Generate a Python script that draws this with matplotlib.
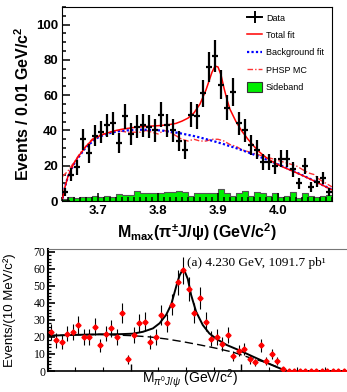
import numpy as np
import matplotlib.pyplot as plt
from matplotlib.patches import Patch
from matplotlib.lines import Line2D
from matplotlib.ticker import MultipleLocator

plt.rcParams['mathtext.fontset'] = 'custom'
plt.rcParams['mathtext.rm'] = 'Liberation Sans'
plt.rcParams['mathtext.bf'] = 'Liberation Sans:bold'
plt.rcParams['mathtext.it'] = 'Liberation Sans:italic'

# ---- panel superior: M_max(pi+- J/psi) ----
bin_lo = 3.64
bin_w = 0.01
datos = [5, 15, 19, 35, 27, 37, 39, 43, 44, 33, 48, 38, 42, 43, 42, 40, 49, 43, 40, 34,
         29, 49, 48, 61, 76, 82, 66, 53, 62, 44, 40, 32, 29, 22, 22, 20, 24, 24, 18, 10,
         20, 8, 11, 13, 5]
sideband = [1.3, 2.1, 1.5, 2.1, 2.5, 2.8, 2.1, 3.0, 2.5, 3.8, 3.2, 3.4, 5.8, 4.3, 4.3,
            4.7, 4.7, 5.1, 5.1, 5.7, 5.3, 2.8, 4.3, 4.3, 4.3, 4.7, 6.6, 4.3, 2.8, 4.3,
            5.7, 2.8, 5.1, 4.3, 2.8, 4.3, 2.1, 2.8, 5.1, 1.5, 4.3, 2.8, 2.5, 2.8, 3.2]

x_fit = [3.641, 3.645, 3.65, 3.66, 3.67, 3.68, 3.69, 3.70, 3.71, 3.72, 3.73, 3.74, 3.75,
         3.76, 3.77, 3.78, 3.79, 3.80, 3.81, 3.82, 3.83, 3.84, 3.85, 3.86, 3.87, 3.88,
         3.885, 3.89, 3.895, 3.90, 3.905, 3.91, 3.915, 3.92, 3.93, 3.94, 3.95, 3.96, 3.97,
         3.98, 3.99, 4.00, 4.01, 4.02, 4.03, 4.04, 4.05, 4.06, 4.07, 4.08, 4.09]
total_fit = [1.5, 8, 14, 21.5, 26.5, 31, 34.5, 36.5, 38, 39, 40, 40.7, 41.2,
             41.7, 42, 42.3, 42.5, 42.7, 43, 43.4, 44, 45.3, 47, 50, 55, 63,
             68, 73, 76.5, 76, 71.5, 64, 57.5, 52, 45, 39.5, 35, 31, 27.5,
             24.7, 22.5, 20.6, 19, 17.6, 16.1, 14.6, 13, 11.4, 9.7, 8, 6.3]
bkg_fit = [1.5, 8, 14, 21, 26, 30.5, 33.5, 36, 37.5, 38.5, 39.3, 39.8, 40.1,
           40.3, 40.4, 40.4, 40.3, 40.1, 39.8, 39.3, 38.8, 38.2, 37.5, 36.8, 36, 35.1,
           34.6, 34.2, 33.7, 33.2, 32.7, 32.2, 31.6, 31.1, 30, 28.8, 27.6, 26.3, 25,
           23.6, 22.2, 20.8, 19.3, 17.8, 16.3, 14.7, 13.1, 11.5, 9.8, 8.1, 6.4]
x_phsp = [3.641, 3.65, 3.66, 3.67, 3.68, 3.69, 3.70, 3.71, 3.72, 3.73, 3.74, 3.75, 3.76,
          3.77, 3.78, 3.79, 3.80, 3.81, 3.82, 3.83, 3.84, 3.85, 3.86, 3.87, 3.88, 3.89,
          3.90, 3.91, 3.92, 3.93, 3.94, 3.95, 3.96, 3.97, 3.98, 3.99, 4.00, 4.01, 4.02,
          4.03, 4.04, 4.05, 4.06, 4.07, 4.08, 4.09]
phsp = [14, 17, 22, 27, 31, 35, 37, 38, 39, 40, 39.5, 39, 39, 39, 40, 39, 38, 40, 39,
        37, 35, 34, 35, 34, 34, 35, 35, 34, 32, 31, 29, 28, 27, 26, 25, 24, 23, 22, 21,
        20, 18, 16, 15, 12, 10, 8]

# ---- panel inferior: M_{pi0 J/psi} ----
b_lo = 3.65
puntos = [23, 18, 17, 22, 23, 27, 20, 20, 26, 15, 22, 25, 20, 34, 7, 21, 28, 29, 17, 20,
          33, 28, 39, 52, 59, 48, 34, 43, 29, 19, 20, 16, 21, 9, 12, 13, 7, 5, 15, 6,
          10, 6, 1, 0, 0, 0, 0, 0, 0, 0, 0, 0, 0, 0]
x_b = [3.650, 3.700, 3.744, 3.780, 3.804, 3.822, 3.840, 3.852, 3.864, 3.873, 3.882,
       3.888, 3.893, 3.898, 3.903, 3.909, 3.918, 3.930, 3.942, 3.955, 3.973, 3.997,
       4.021, 4.045, 4.069, 4.082, 4.20]
total_b = [20.7, 21.2, 21.5, 21.6, 21.9, 23, 25, 28, 33, 39, 49.5,
           56, 59, 58, 54, 44.6, 34.8, 27, 22, 18.8, 15.3, 12,
           8.4, 4.9, 1.6, 0, 0]
x_bg = [3.650, 3.700, 3.744, 3.804, 3.834, 3.864, 3.894, 3.925, 3.955, 3.985, 4.015,
        4.045, 4.082, 4.20]
bg_b = [20.7, 21.2, 21.5, 20.7, 20, 18.8, 17.2, 15.3, 13.3, 11, 7.8, 4.9, 0, 0]

fig = plt.figure(figsize=(3.47, 3.92), dpi=100)

# ===== arriba =====
ax = fig.add_axes([62/347, 1-201/392, 270/347, 194/392])
n = len(datos)
edges = bin_lo + bin_w*np.arange(n+1)
centros = bin_lo + bin_w*(np.arange(n) + 0.5)
d = np.array(datos, float)

ax.stairs(sideband, edges, fill=True, facecolor='#00ee00', edgecolor='none', zorder=1)
ax.stairs(sideband, edges, color='#555555', lw=0.8, zorder=1.5)
ax.plot(x_phsp, phsp, color='#ff3333', lw=1.0, ls=(0, (4, 1.5, 1, 1.5)), zorder=2)
ax.plot(x_fit, bkg_fit, color='#0000ff', lw=1.6, ls=(0, (1, 1)), zorder=3)
ax.plot(x_fit, total_fit, color='#ff0000', lw=1.1, zorder=4)
ax.errorbar(centros, d, yerr=np.sqrt(d), xerr=bin_w/2, fmt='none', ecolor='black',
            elinewidth=1.6, capsize=0, zorder=5)

ax.set_xlim(3.64, 4.09)
ax.set_ylim(0, 110)
ax.xaxis.set_minor_locator(MultipleLocator(0.01))
ax.yaxis.set_minor_locator(MultipleLocator(5))
ax.tick_params(which='both', direction='in', top=False, right=False, width=1.1)
ax.tick_params(which='major', length=5.5, pad=3)
ax.tick_params(which='minor', length=3)
ax.set_xticks([3.7, 3.8, 3.9, 4.0])
ax.set_xticklabels(['3.7', '3.8', '3.9', '4.0'], fontfamily='Liberation Sans',
                   fontweight='bold', fontsize=9.5)
ax.set_yticks([0, 20, 40, 60, 80, 100])
ax.set_yticklabels(['0', '20', '40', '60', '80', '100'], fontfamily='Liberation Sans',
                   fontweight='bold', fontsize=9.5)
ax.set_xlabel(r'M$_{\mathbf{max}}$(π$^{\mathbf{\pm}}$J/ψ) (GeV/c$^{\mathbf{2}}$)',
              fontfamily='Liberation Sans', fontweight='bold', fontsize=11.5, labelpad=3)
ax.set_ylabel(r'Events / 0.01 GeV/c$^{\mathbf{2}}$', fontfamily='Liberation Sans',
              fontweight='bold', fontsize=11.5, labelpad=3)

h_data = Line2D([], [], color='black', lw=1.4, marker='+', markersize=9, mew=1.4)
h_tot = Line2D([], [], color='#ff0000', lw=1.1)
h_bkg = Line2D([], [], color='#0000ff', lw=1.6, ls=(0, (1, 1)))
h_phsp = Line2D([], [], color='#ff3333', lw=1.0, ls=(0, (4, 1.5, 1, 1.5)))
h_sb = Patch(facecolor='#00ee00', edgecolor='#333333', lw=0.8)
ax.legend([h_data, h_tot, h_bkg, h_phsp, h_sb],
          ['Data', 'Total fit', 'Background fit', 'PHSP MC', 'Sideband'],
          loc='upper left', bbox_to_anchor=(0.685, 0.968), frameon=False,
          prop={'family': 'Liberation Sans', 'size': 6.5}, handlelength=1.7,
          handleheight=1.3, handletextpad=0.4, labelspacing=0.8, borderpad=0,
          borderaxespad=0)

# ===== abajo =====
ax2 = fig.add_axes([48.3/347, 21/392, (350-48.3)/347, (371-249.3)/392])
p = np.array(puntos, float)
cb = b_lo + 0.005 + 0.01*np.arange(len(p))
ax2.plot(x_bg, bg_b, color='black', lw=1.0, ls=(0, (6, 3)), zorder=2)
ax2.plot(x_b, total_b, color='black', lw=1.4, zorder=3)
ax2.errorbar(cb, p, yerr=np.sqrt(p), fmt='none', ecolor='black', elinewidth=0.8,
             capsize=0, zorder=4)
ax2.plot(cb, p, ls='none', marker='D', markersize=2.6, color='#ff0000', zorder=5)
ax2.set_xlim(3.651, 4.196)
ax2.set_ylim(0, 71.4)
ax2.set_xticks([3.8, 4.0])
ax2.set_xticks([3.7, 3.75, 3.85, 3.9, 3.95, 4.05, 4.1, 4.15], minor=True)
ax2.set_xticklabels([])
ax2.yaxis.set_minor_locator(MultipleLocator(2))
ax2.tick_params(which='both', direction='in', top=False, right=False)
ax2.tick_params(axis='y', which='major', length=5, width=1.2, pad=2)
ax2.tick_params(axis='y', which='minor', length=2.5, width=0.9)
ax2.tick_params(axis='x', which='major', length=5, width=1.0)
ax2.tick_params(axis='x', which='minor', length=3, width=0.8)
ax2.set_yticks(range(0, 71, 10))
ax2.set_yticklabels([str(v) for v in range(0, 71, 10)], fontfamily='Liberation Serif',
                    fontsize=8.5)
ax2.spines['top'].set_color('#777777')
ax2.spines['left'].set_linewidth(1.5)
ax2.spines['bottom'].set_linewidth(1.2)
ax2.set_ylabel('Events/(10 MeV/c²)', fontfamily='Liberation Sans', fontsize=9.5)
ax2.yaxis.set_label_coords(-0.107, 0.5)
fig.text(190/347, 9/392, r'M$_{\pi^{0}J/\psi}$ (GeV/c$^{2}$)', ha='center',
         va='baseline', fontfamily='Liberation Sans', fontsize=10)
ax2.text(0.46, 0.89, '(a) 4.230 GeV, 1091.7 pb¹', transform=ax2.transAxes,
         fontfamily='Liberation Serif', fontsize=9.5, va='center', ha='left')

fig.savefig('out.png', dpi=100)
